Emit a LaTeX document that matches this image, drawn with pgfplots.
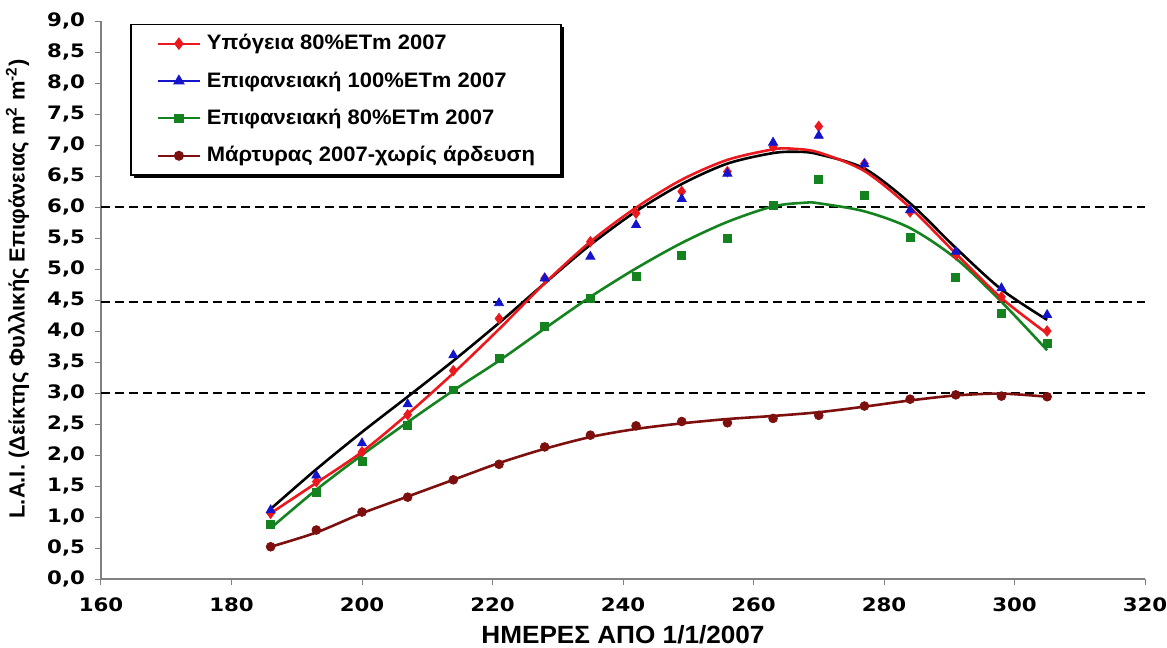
\documentclass[border=0pt]{standalone}
\usepackage{fontspec}
\setmainfont{Liberation Sans}
\newfontfamily\tickfont[FakeStretch=1.15]{DejaVu Sans}
\newfontfamily\legfont[FakeStretch=1.05]{Liberation Sans}
\newfontfamily\titlefont[FakeStretch=1.05]{Liberation Sans}
\usepackage{pgfplots}
\pgfplotsset{compat=1.18}
\usetikzlibrary{shadows}
\makeatletter
\tikzset{no preactions/.code={\let\tikz@preactions\pgfutil@empty}}
\makeatother
\definecolor{cred}{RGB}{235,25,30}
\definecolor{cblue}{RGB}{20,20,205}
\definecolor{cgreen}{RGB}{20,130,30}
\definecolor{cbrown}{RGB}{125,15,15}
\begin{document}
\begin{tikzpicture}
\begin{axis}[
  name=ax,
  scale only axis, width=522bp, height=279bp,
  xmin=160, xmax=320, ymin=0, ymax=9,
  axis x line*=bottom, axis y line*=left,
  axis line style={gray, line width=0.6pt},
  xtick={160,180,200,220,240,260,280,300,320},
  ytick={0,0.5,1,1.5,2,2.5,3,3.5,4,4.5,5,5.5,6,6.5,7,7.5,8,8.5,9},
  tick align=outside, major tick length=3bp,
  tick style={gray, line width=0.5pt},
  /pgf/number format/assume math mode=true,
  ticklabel style={font=\tickfont\fontsize{9.3}{11}\selectfont\bfseries},
  yticklabel style={xshift=-1.5bp, /pgf/number format/.cd, fixed, fixed zerofill, precision=1, use comma},
  xticklabel style={yshift=-3bp, /pgf/number format/.cd, fixed, precision=0, 1000 sep={}},
  xlabel={ΗΜΕΡΕΣ ΑΠΟ 1/1/2007},
  xlabel style={at={(axis description cs:0.5,-0.1)}, anchor=center, font=\titlefont\fontsize{12.5}{14}\selectfont\bfseries},
  ylabel={L.A.I. (Δείκτης Φυλλικής Επιφάνειας m\textsuperscript{2} m\textsuperscript{-2})},
  ylabel style={at={(axis description cs:-0.08,0.52)}, anchor=center, font=\fontsize{11}{12}\selectfont\bfseries},
  legend style={at={(axis description cs:0.028,0.995)}, anchor=north west, draw=black, line width=0.7pt, fill=white,
    drop shadow={shadow xshift=1.5bp, shadow yshift=-1.5bp, fill=black, opacity=1},
    font=\legfont\fontsize{10.5}{12}\selectfont\bfseries, row sep=5.5bp, inner xsep=11bp, inner ysep=3bp, cells={anchor=west}},
  legend image code/.code={\path[no preactions] (-2bp,0bp) (22bp,0bp);
    \draw[no preactions, mark repeat=2, mark phase=2, #1] plot coordinates {(0bp,0bp) (10.5bp,0bp) (21bp,0bp)};},
]
% reference dashed lines
\addplot[black, line width=1bp, dash pattern=on 4.5bp off 2.5bp, forget plot] coordinates {(160,6.0) (320,6.0)};
\addplot[black, line width=1bp, dash pattern=on 4.5bp off 2.5bp, forget plot] coordinates {(160,4.47) (320,4.47)};
\addplot[black, line width=1bp, dash pattern=on 4.5bp off 2.5bp, forget plot] coordinates {(160,3.0) (320,3.0)};

% trend lines
\addplot[black, line width=1.3pt, smooth, forget plot] coordinates {
(186,1.13) (193,1.77) (200,2.37) (207,2.94) (214,3.52) (221,4.13) (228,4.77) (235,5.39) (242,5.93)
(249,6.37) (256,6.70) (263,6.87) (267,6.89) (270,6.85) (277,6.62) (284,6.06) (291,5.34) (298,4.67) (305,4.18)};
\addplot[cgreen, line width=1.3pt, smooth, forget plot] coordinates {
(186,0.82) (193,1.44) (200,2.00) (207,2.53) (214,3.04) (221,3.52) (228,4.04) (235,4.55) (242,5.01)
(249,5.42) (256,5.76) (263,6.01) (268,6.07) (270,6.06) (277,5.93) (284,5.66) (291,5.17) (298,4.47) (305,3.69)};
\addplot[cbrown, line width=1.3pt, smooth, forget plot] coordinates {
(186,0.52) (193,0.75) (200,1.06) (207,1.33) (214,1.60) (221,1.87) (228,2.10) (235,2.29) (242,2.42)
(249,2.51) (256,2.58) (263,2.63) (270,2.69) (277,2.78) (284,2.88) (291,2.96) (298,2.99) (305,2.94)};
\addplot[cred, line width=1.3pt, smooth, forget plot] coordinates {
(186,1.06) (193,1.55) (200,2.05) (207,2.66) (214,3.32) (221,4.03) (228,4.77) (235,5.44) (242,5.99)
(249,6.44) (256,6.76) (263,6.93) (266,6.94) (270,6.88) (277,6.58) (284,5.99) (291,5.25) (298,4.53) (305,3.96)};

% data points
\addplot[only marks, mark=square*, mark size=2pt, cgreen, forget plot] coordinates {
(186,0.88) (193,1.39) (200,1.89) (207,2.48) (214,3.05) (221,3.56) (228,4.08) (235,4.53) (242,4.88)
(249,5.22) (256,5.49) (263,6.03) (270,6.44) (277,6.18) (284,5.51) (291,4.86) (298,4.28) (305,3.80)};
\addplot[only marks, mark=*, mark size=2.2pt, cbrown, forget plot] coordinates {
(186,0.52) (193,0.79) (200,1.08) (207,1.32) (214,1.60) (221,1.85) (228,2.13) (235,2.32) (242,2.47)
(249,2.54) (256,2.52) (263,2.59) (270,2.64) (277,2.79) (284,2.90) (291,2.97) (298,2.95) (305,2.94)};
\addplot[only marks, mark=diamond*, mark size=2.6pt, cred, forget plot] coordinates {
(186,1.06) (193,1.57) (200,2.05) (207,2.65) (214,3.36) (221,4.20) (228,4.85) (235,5.44) (242,5.90)
(249,6.25) (256,6.57) (263,6.97) (270,7.30) (277,6.70) (284,5.92) (291,5.23) (298,4.55) (305,4.00)};
\addplot[only marks, mark=triangle*, mark size=2.6pt, cblue, forget plot] coordinates {
(186,1.11) (193,1.67) (200,2.19) (207,2.82) (214,3.61) (221,4.45) (228,4.85) (235,5.20) (242,5.71)
(249,6.13) (256,6.54) (263,7.04) (270,7.15) (277,6.69) (284,5.95) (291,5.28) (298,4.69) (305,4.26)};

\addlegendimage{cred, line width=1pt, mark=diamond*, mark size=2.4pt}
\addlegendentry{Υπόγεια 80\%ETm 2007}
\addlegendimage{cblue, line width=1pt, mark=triangle*, mark size=2.4pt}
\addlegendentry{Επιφανειακή 100\%ETm 2007}
\addlegendimage{cgreen, line width=1pt, mark=square*, mark size=1.8pt}
\addlegendentry{Επιφανειακή 80\%ETm 2007}
\addlegendimage{cbrown, line width=1pt, mark=*, mark size=2pt}
\addlegendentry{Μάρτυρας 2007-χωρίς άρδευση}
\end{axis}
\pgfresetboundingbox
\path ([xshift=-50.5bp,yshift=-34.5bp]ax.south west) rectangle ([xshift=11bp,yshift=10.5bp]ax.north east);
\end{tikzpicture}
\end{document}
